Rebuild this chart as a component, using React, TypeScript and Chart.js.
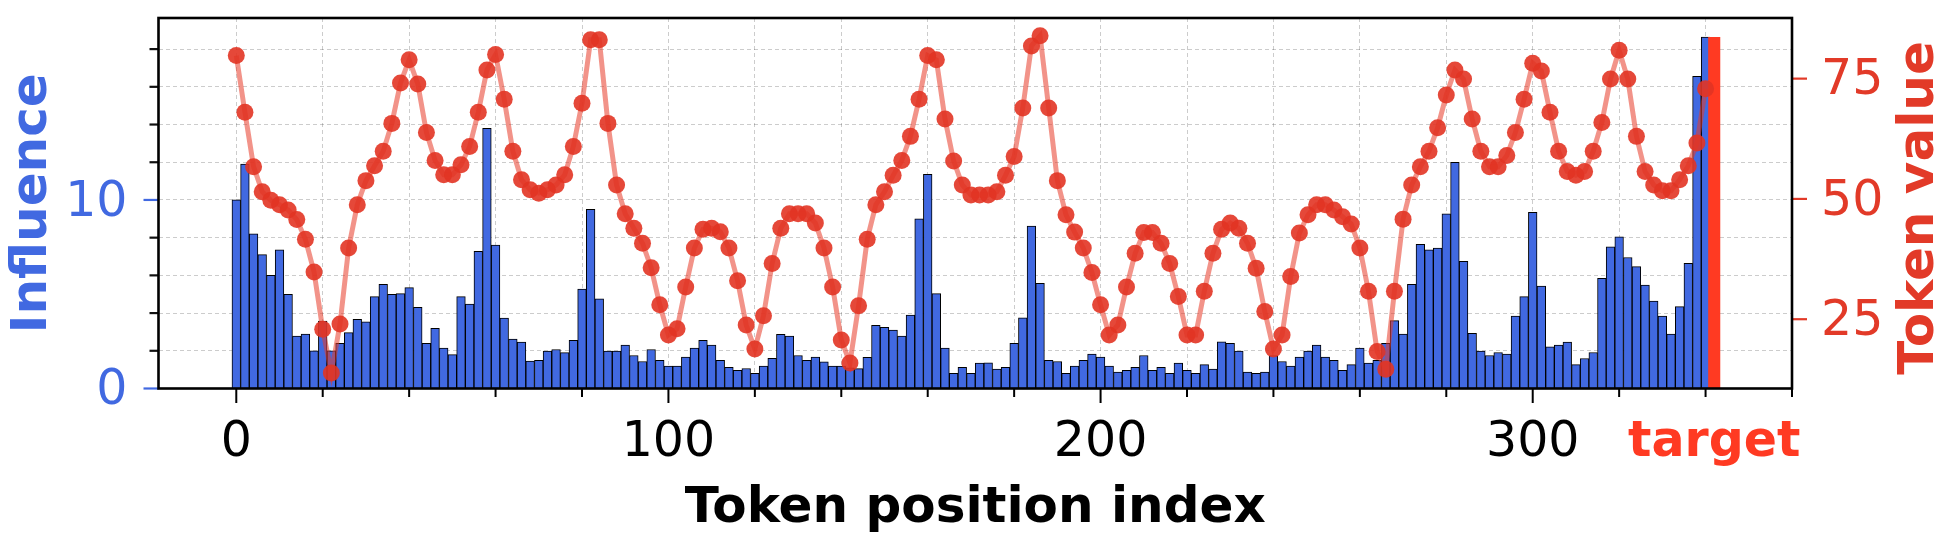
import React, { useEffect, useRef } from 'react';
import { Chart, registerables } from 'chart.js';

Chart.register(...registerables);

// ---------------- data ----------------
const positions = [
  0, 2, 4, 6, 8, 10, 12, 14, 16, 18,
  20, 22, 24, 26, 28, 30, 32, 34, 36, 38,
  40, 42, 44, 46, 48, 50, 52, 54, 56, 58,
  60, 62, 64, 66, 68, 70, 72, 74, 76, 78,
  80, 82, 84, 86, 88, 90, 92, 94, 96, 98,
  100, 102, 104, 106, 108, 110, 112, 114, 116, 118,
  120, 122, 124, 126, 128, 130, 132, 134, 136, 138,
  140, 142, 144, 146, 148, 150, 152, 154, 156, 158,
  160, 162, 164, 166, 168, 170, 172, 174, 176, 178,
  180, 182, 184, 186, 188, 190, 192, 194, 196, 198,
  200, 202, 204, 206, 208, 210, 212, 214, 216, 218,
  220, 222, 224, 226, 228, 230, 232, 234, 236, 238,
  240, 242, 244, 246, 248, 250, 252, 254, 256, 258,
  260, 262, 264, 266, 268, 270, 272, 274, 276, 278,
  280, 282, 284, 286, 288, 290, 292, 294, 296, 298,
  300, 302, 304, 306, 308, 310, 312, 314, 316, 318,
  320, 322, 324, 326, 328, 330, 332, 334, 336, 338,
  340,
];

const influence = [
  10.0, 11.9, 8.2, 7.1, 6.0, 7.35, 5.0, 2.78, 2.89, 2.0,
  3.58, 2.0, 2.4, 2.96, 3.67, 3.53, 4.87, 5.53, 5.0, 5.03,
  5.35, 4.3, 2.39, 3.19, 2.14, 1.8, 4.87, 4.48, 7.27, 13.8,
  7.6, 3.73, 2.62, 2.46, 1.45, 1.5, 1.98, 2.07, 1.9, 2.55,
  5.27, 9.5, 4.76, 1.98, 1.98, 2.3, 1.75, 1.43, 2.07, 1.5,
  1.19, 1.19, 1.66, 2.14, 2.55, 2.3, 1.5, 1.12, 0.96, 1.06,
  0.8, 1.19, 1.6, 2.87, 2.78, 1.75, 1.5, 1.66, 1.42, 1.19,
  1.19, 1.1, 1.05, 1.65, 3.35, 3.25, 3.1, 2.78, 3.9, 9.0,
  11.36, 5.03, 2.14, 0.8, 1.12, 0.8, 1.35, 1.36, 1.03, 1.12,
  2.39, 3.75, 8.62, 5.58, 1.5, 1.43, 0.8, 1.19, 1.5, 1.82,
  1.66, 1.19, 0.87, 0.96, 1.12, 1.75, 0.96, 1.12, 0.8, 1.35,
  0.96, 0.8, 1.27, 1.03, 2.48, 2.39, 1.98, 0.87, 0.8, 0.87,
  1.75, 1.43, 1.19, 1.66, 1.98, 2.3, 1.66, 1.5, 0.96, 1.27,
  2.14, 1.35, 1.5, 2.39, 3.6, 2.88, 5.52, 7.65, 7.35, 7.45,
  9.26, 12.0, 6.74, 2.92, 1.98, 1.75, 1.91, 1.82, 3.84, 4.87,
  9.35, 5.43, 2.21, 2.3, 2.46, 1.27, 1.59, 1.91, 5.84, 7.52,
  8.05, 6.95, 6.46, 5.49, 4.64, 3.84, 2.88, 4.34, 6.64, 16.55,
  18.64,
];

const tokenValues = [
  79.8, 68.0, 56.7, 51.5, 49.7, 48.8, 47.7, 45.7, 41.6, 34.8,
  22.9, 13.8, 24.0, 39.8, 48.8, 53.8, 56.9, 59.9, 65.7, 74.1,
  78.9, 73.9, 63.8, 58.0, 55.0, 55.0, 57.1, 60.9, 68.0, 76.8,
  80.0, 70.7, 59.9, 54.0, 51.9, 51.2, 51.9, 52.9, 55.0, 60.9,
  69.9, 83.1, 83.1, 65.7, 52.9, 46.9, 43.9, 40.8, 35.7, 28.0,
  21.7, 23.0, 31.7, 39.8, 43.7, 43.9, 43.2, 39.8, 33.0, 23.8,
  18.8, 25.7, 36.6, 43.9, 46.9, 46.9, 46.9, 45.0, 39.8, 31.7,
  20.7, 15.9, 27.8, 41.6, 48.8, 51.5, 54.9, 58.0, 63.0, 70.7,
  79.8, 78.9, 66.6, 57.9, 52.9, 50.8, 50.8, 50.8, 51.5, 54.9,
  58.8, 68.9, 81.8, 83.9, 68.9, 53.8, 46.7, 43.1, 39.8, 34.7,
  28.0, 21.7, 23.8, 31.7, 38.7, 43.0, 43.0, 40.8, 36.6, 29.7,
  21.7, 21.7, 30.8, 38.7, 43.7, 45.0, 43.9, 40.8, 35.6, 26.6,
  18.8, 21.7, 33.9, 42.9, 46.7, 48.8, 48.8, 47.7, 46.3, 44.8,
  39.8, 30.8, 18.3, 14.6, 30.8, 45.8, 52.9, 56.7, 59.9, 64.8,
  71.6, 76.8, 74.9, 66.6, 59.9, 56.7, 56.7, 59.0, 63.8, 70.7,
  78.2, 76.6, 68.0, 59.9, 55.7, 54.9, 55.7, 59.9, 65.9, 74.9,
  80.9, 74.9, 63.0, 55.7, 52.9, 51.7, 51.7, 54.0, 56.9, 61.6,
  72.9,
];

const targetPosition = 342;
const targetLabel = 'target';

const xTicks = [0, 20, 40, 60, 80, 100, 120, 140, 160, 180, 200, 220, 240, 260, 280, 300, 320, 340, 360];
const xLabeledTicks = [0, 100, 200, 300];
const yTicks = [0, 2, 4, 6, 8, 10, 12, 14, 16, 18];
const yLabeledTicks = [0, 10];
const y1Ticks = [25, 50, 75];

// ---------------- styles ----------------
const FONT = '"DejaVu Sans", "Liberation Sans", sans-serif';
const BLUE = '#4169E1';
const RED = '#E23A28';
const TARGET_RED = '#FF3A22';
const GRID = 'rgba(0,0,0,0.2)';

const W = 1946;
const H = 538;
const PLOT_LEFT = 158.5;
const PLOT_RIGHT = 1792;
const PLOT_TOP = 18;
const PLOT_BOTTOM = 388.5;

const zeroPadding = (s: any) => {
  s.paddingTop = 0;
  s.paddingBottom = 0;
  s.paddingLeft = 0;
  s.paddingRight = 0;
};

const decorPlugin = {
  id: 'decor',
  afterDraw(chart: any) {
    const { ctx, chartArea: a, scales } = chart;
    const sx = scales.x;
    const sy = scales.y;
    const sy1 = scales.y1;
    ctx.save();
    const line = (x1: number, y1: number, x2: number, y2: number, color: string, w: number) => {
      ctx.beginPath();
      ctx.strokeStyle = color;
      ctx.lineWidth = w;
      ctx.moveTo(x1, y1);
      ctx.lineTo(x2, y2);
      ctx.stroke();
    };
    // x ticks
    xTicks.forEach((v) => {
      const px = sx.getPixelForValue(v);
      const major = xLabeledTicks.includes(v);
      line(px, a.bottom, px, a.bottom + (major ? 14.5 : 8.5), '#000', 2);
    });
    // left ticks
    yTicks.forEach((v) => {
      const py = sy.getPixelForValue(v);
      const major = yLabeledTicks.includes(v);
      line(a.left - (major ? 15 : 9), py, a.left, py, major ? BLUE : '#111', 2.2);
    });
    // right ticks
    y1Ticks.forEach((v) => {
      const py = sy1.getPixelForValue(v);
      line(a.right, py, a.right + 15, py, RED, 2.2);
    });
    // frame
    ctx.lineWidth = 2.6;
    ctx.strokeStyle = '#000';
    ctx.strokeRect(a.left, a.top, a.right - a.left, a.bottom - a.top);
    // right axis title (reads bottom to top)
    ctx.translate(1933, 208);
    ctx.rotate(-Math.PI / 2);
    ctx.font = `bold 50px ${FONT}`;
    ctx.fillStyle = RED;
    ctx.textAlign = 'center';
    ctx.textBaseline = 'alphabetic';
    ctx.fillText('Token value', 0, 0);
    ctx.restore();
  },
};

export default function App() {
  const canvasRef = useRef<HTMLCanvasElement | null>(null);

  useEffect(() => {
    document.body.style.margin = '0';
    document.body.style.overflow = 'hidden';
    const canvas = canvasRef.current;
    if (!canvas) return;

    const maxInfluence = Math.max(...influence);

    const chart = new Chart(canvas, {
      type: 'bar',
      data: {
        datasets: [
          {
            type: 'line',
            label: 'Token value',
            data: positions.map((x, i) => ({ x, y: tokenValues[i] })),
            xAxisID: 'x',
            yAxisID: 'y1',
            order: 0,
            borderColor: 'rgba(232,58,40,0.55)',
            borderWidth: 5,
            pointRadius: 8.5,
            pointBackgroundColor: 'rgba(226,52,35,0.9)',
            pointBorderWidth: 0,
            tension: 0,
            fill: false,
          } as any,
          {
            type: 'bar',
            label: targetLabel,
            data: [{ x: targetPosition, y: maxInfluence }],
            xAxisID: 'x',
            yAxisID: 'y',
            order: 1,
            backgroundColor: TARGET_RED,
            borderWidth: 0,
            grouped: false,
            barPercentage: 1.4,
            categoryPercentage: 1,
          } as any,
          {
            type: 'bar',
            label: 'Influence',
            data: positions.map((x, i) => ({ x, y: influence[i] })),
            xAxisID: 'x',
            yAxisID: 'y',
            order: 2,
            backgroundColor: BLUE,
            borderColor: '#000',
            borderWidth: 1,
            grouped: false,
            barPercentage: 1,
            categoryPercentage: 1,
          } as any,
        ],
      },
      options: {
        responsive: false,
        animation: false,
        devicePixelRatio: 1,
        layout: { padding: { top: PLOT_TOP, left: 0, right: 0, bottom: 0 } },
        plugins: { legend: { display: false }, tooltip: { enabled: false } },
        scales: {
          x: {
            type: 'linear',
            position: 'bottom',
            min: -18,
            max: 360,
            offset: false,
            afterBuildTicks: (s: any) => {
              s.ticks = [...xTicks, targetPosition].map((v) => ({ value: v }));
            },
            afterFit: (s: any) => {
              s.height = H - PLOT_BOTTOM;
              zeroPadding(s);
            },
            ticks: {
              autoSkip: false,
              maxRotation: 0,
              minRotation: 0,
              padding: 25,
              callback: (v: any) =>
                v === targetPosition ? targetLabel : xLabeledTicks.includes(v) ? String(v) : '',
              color: (ctx: any) => (ctx.tick && ctx.tick.value === targetPosition ? TARGET_RED : '#000'),
              font: (ctx: any) =>
                ctx.tick && ctx.tick.value === targetPosition
                  ? { family: FONT, size: 49, weight: 'bold' }
                  : { family: FONT, size: 49 },
            },
            grid: {
              offset: false,
              drawTicks: false,
              lineWidth: 1,
              color: (ctx: any) =>
                ctx.tick && ctx.tick.value === targetPosition ? 'rgba(0,0,0,0)' : GRID,
            },
            border: { display: false, dash: [4, 3] },
            title: {
              display: true,
              text: 'Token position index',
              color: '#000',
              font: { family: FONT, size: 50, weight: 'bold', lineHeight: 1.15 },
              padding: { top: 0, bottom: 0 },
            },
          } as any,
          y: {
            type: 'linear',
            position: 'left',
            min: 0,
            max: 19.65,
            afterBuildTicks: (s: any) => {
              s.ticks = yTicks.map((v) => ({ value: v }));
            },
            afterFit: (s: any) => {
              s.width = PLOT_LEFT;
              zeroPadding(s);
            },
            ticks: {
              autoSkip: false,
              padding: 31,
              labelOffset: 3,
              color: BLUE,
              font: { family: FONT, size: 49 },
              callback: (v: any) => (yLabeledTicks.includes(v) ? String(v) : ''),
            },
            grid: { drawTicks: false, lineWidth: 1, color: GRID },
            border: { display: false, dash: [4, 3] },
            title: {
              display: true,
              text: 'Influence',
              color: BLUE,
              font: { family: FONT, size: 50, weight: 'bold', lineHeight: 1.2 },
              padding: { top: 3, bottom: 0 },
            },
          } as any,
          y1: {
            type: 'linear',
            position: 'right',
            min: 10.6,
            max: 87.6,
            afterBuildTicks: (s: any) => {
              s.ticks = y1Ticks.map((v) => ({ value: v }));
            },
            afterFit: (s: any) => {
              s.width = W - PLOT_RIGHT;
              zeroPadding(s);
            },
            ticks: {
              autoSkip: false,
              padding: 29,
              labelOffset: 3,
              color: RED,
              font: { family: FONT, size: 49 },
            },
            grid: { display: false, drawTicks: false, drawOnChartArea: false },
            border: { display: false },
          } as any,
        },
      },
      plugins: [decorPlugin],
    } as any);

    return () => {
      chart.destroy();
    };
  }, []);

  return (
    <div style={{ width: W, height: H }}>
      <canvas ref={canvasRef} width={W} height={H} style={{ display: 'block', width: W, height: H }} />
    </div>
  );
}
